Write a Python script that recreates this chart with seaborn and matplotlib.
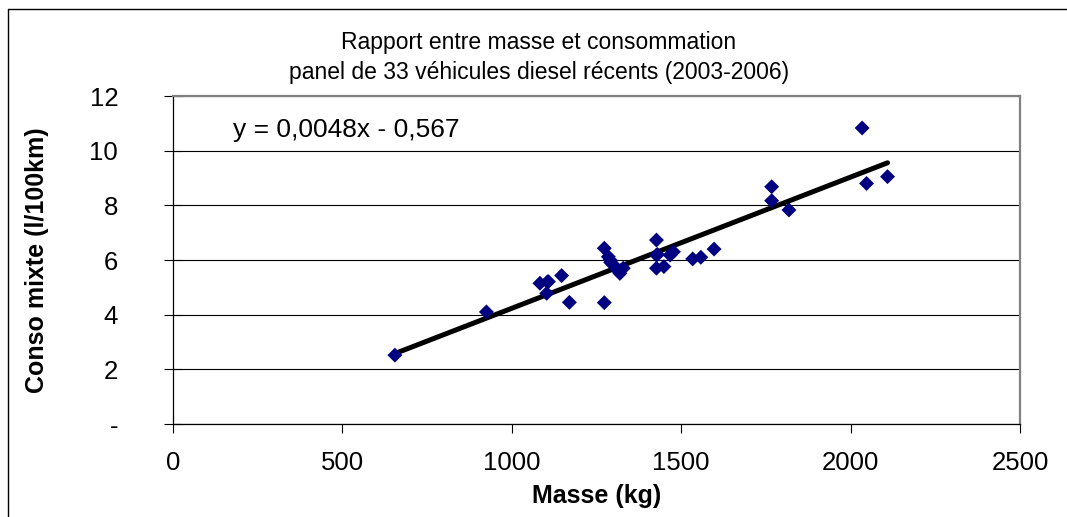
import numpy as np
import pandas as pd
import matplotlib
matplotlib.use('Agg')
import matplotlib.pyplot as plt
from matplotlib.lines import Line2D
import seaborn as sns

# data
masse = [655, 925, 1083, 1103, 1108, 1147, 1170, 1273, 1273, 1285, 1292, 1300, 1310,
         1319, 1329, 1427, 1427, 1427, 1430, 1449, 1467, 1477, 1534, 1558, 1597,
         1767, 1767, 1818, 2034, 2047, 2109, 1290, 1105]
conso = [2.52, 4.10, 5.15, 4.78, 5.21, 5.43, 4.45, 6.43, 4.44, 6.12, 5.91, 5.82, 5.65,
         5.51, 5.70, 6.73, 6.18, 5.70, 6.20, 5.76, 6.18, 6.30, 6.04, 6.10, 6.40,
         8.68, 8.17, 7.83, 10.83, 8.80, 9.05, 6.00, 5.20]
pente = 0.0048
origine = -0.567
yticks = [0, 2, 4, 6, 8, 10, 12]
ytick_labels = ['-', '2', '4', '6', '8', '10', '12']
xticks = [0, 500, 1000, 1500, 2000, 2500]

df = pd.DataFrame({'Masse': masse, 'Conso': conso})
x_fit = np.array([min(masse), max(masse)])
fit = pd.DataFrame({'Masse': x_fit, 'Conso': pente * x_fit + origine})

sns.set_theme(style='white')
plt.rcParams['font.family'] = ['Liberation Sans', 'DejaVu Sans']
plt.rcParams['text.color'] = 'black'
plt.rcParams['axes.labelcolor'] = 'black'
plt.rcParams['xtick.color'] = 'black'
plt.rcParams['ytick.color'] = 'black'

fig = plt.figure(figsize=(10.67, 5.17), dpi=100)
ax = fig.add_axes([173/1067, 1 - 424/517, 847/1067, 328/517])

sns.lineplot(data=fit, x='Masse', y='Conso', color='black', linewidth=3.6,
             ax=ax, zorder=3)
sns.scatterplot(data=df, x='Masse', y='Conso', marker='D', color='#000080',
                s=58, edgecolor='none', ax=ax, zorder=4)

ax.set_xlim(0, 2500)
ax.set_ylim(0, 12)
ax.set_xticks(xticks)
ax.set_xticklabels([str(v) for v in xticks], fontsize=18.5)
ax.set_yticks(yticks)
ax.set_yticklabels(ytick_labels, fontsize=18.5)
ax.tick_params(axis='x', direction='out', length=6.5, width=0.8, color='black', pad=13)
ax.tick_params(axis='y', direction='inout', length=13, width=0.8, color='black', pad=33)
ax.tick_params(left=True, bottom=True)

ax.set_axisbelow(True)
ax.yaxis.grid(True, color='black', linewidth=0.8)
ax.xaxis.grid(False)

for side in ['left', 'bottom']:
    ax.spines[side].set_color('black')
    ax.spines[side].set_linewidth(0.9)
for side in ['top', 'right']:
    ax.spines[side].set_color('#808080')
    ax.spines[side].set_linewidth(1.6)

ax.set_xlabel('Masse (kg)', fontsize=18, fontweight='bold')
ax.set_ylabel('Conso mixte (l/100km)', fontsize=18, fontweight='bold')
ax.xaxis.set_label_coords(0.5, -0.22)
ax.xaxis.label.set_va('center')
ax.yaxis.set_label_coords(-0.161, 0.5)
ax.yaxis.label.set_va('center')

ax.text(0.071, 0.896, 'y = 0,0048x - 0,567', transform=ax.transAxes,
        fontsize=19, ha='left', va='center')

fig.text(539/1067, 1 - 43/517, 'Rapport entre masse et consommation',
         ha='center', va='center', fontsize=16.5)
fig.text(539/1067, 1 - 72/517, 'panel de 33 véhicules diesel récents (2003-2006)',
         ha='center', va='center', fontsize=16.5)

# cadre exterieur
fig.add_artist(Line2D([8/1067, 8/1067], [0, 1 - 9/517], transform=fig.transFigure,
                      color='black', linewidth=1))
fig.add_artist(Line2D([8/1067, 1], [1 - 9/517, 1 - 9/517], transform=fig.transFigure,
                      color='black', linewidth=1))

fig.savefig('out.png', dpi=100)
